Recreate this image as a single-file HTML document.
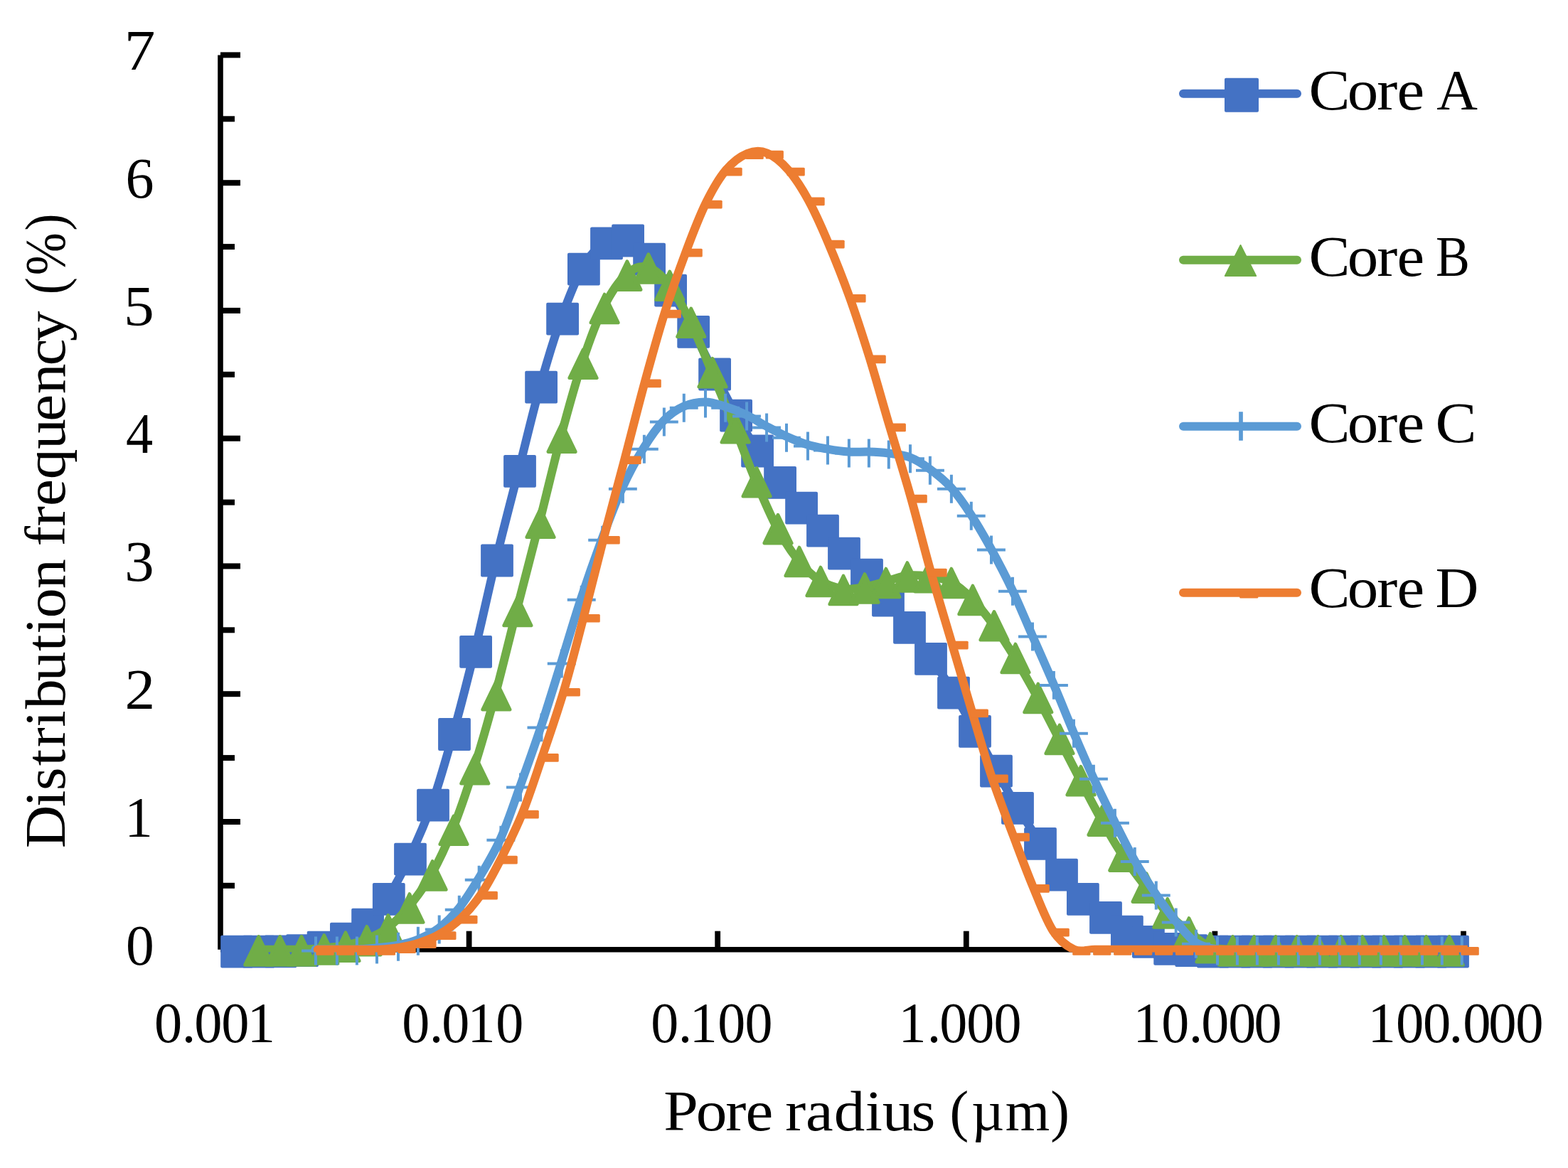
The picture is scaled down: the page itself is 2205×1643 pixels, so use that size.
<!DOCTYPE html>
<html lang="en"><head><meta charset="utf-8"><title>Pore radius distribution</title>
<style>html,body{margin:0;padding:0;background:#fff}body{width:2205px;height:1643px;overflow:hidden}svg{display:block}text{font-family:"Liberation Serif","DejaVu Serif",serif;fill:#000}</style>
</head><body>
<svg width="2205" height="1643" viewBox="0 0 2205 1643">
<rect width="2205" height="1643" fill="#fff"/>
<g stroke="#000" stroke-width="7.6" fill="none" stroke-linecap="butt">
<path d="M310.0 77.5V1335.8"/>
<path d="M310.0 1335.8H2061.8"/>
<path d="M310.0 1245.8h20.0" stroke-width="8"/>
<path d="M310.0 1156.0h28.0" stroke-width="8"/>
<path d="M310.0 1066.1h20.0" stroke-width="8"/>
<path d="M310.0 976.2h28.0" stroke-width="8"/>
<path d="M310.0 886.3h20.0" stroke-width="8"/>
<path d="M310.0 796.4h28.0" stroke-width="8"/>
<path d="M310.0 706.6h20.0" stroke-width="8"/>
<path d="M310.0 616.7h28.0" stroke-width="8"/>
<path d="M310.0 526.8h20.0" stroke-width="8"/>
<path d="M310.0 436.9h28.0" stroke-width="8"/>
<path d="M310.0 347.1h20.0" stroke-width="8"/>
<path d="M310.0 257.2h28.0" stroke-width="8"/>
<path d="M310.0 167.3h20.0" stroke-width="8"/>
<path d="M310.0 77.4h28.0" stroke-width="8"/>
<path d="M659.6 1335.8v-26.1" stroke-width="7.8"/>
<path d="M1009.2 1335.8v-26.1" stroke-width="7.8"/>
<path d="M1358.8 1335.8v-26.1" stroke-width="7.8"/>
<path d="M1708.4 1335.8v-26.1" stroke-width="7.8"/>
<path d="M2058.0 1335.8v-26.1" stroke-width="7.8"/>
</g>
<defs><clipPath id="plot"><rect x="300" y="0" width="1763.8" height="1339.6"/></clipPath></defs>
<g>
<path clip-path="url(#plot)" d="M331.9 1335.8C337.0 1335.8 352.4 1335.8 362.6 1335.8C372.8 1335.8 383.1 1335.7 393.3 1335.5C403.5 1335.3 413.9 1335.3 423.9 1334.4C433.9 1333.5 443.1 1332.7 453.4 1329.9C463.7 1327.1 475.3 1323.2 485.7 1317.8C496.1 1312.4 505.9 1307.1 515.9 1297.8C525.9 1288.5 535.6 1277.3 545.6 1262.0C555.6 1246.7 565.4 1227.9 575.8 1205.9C586.2 1183.9 597.5 1159.1 607.8 1129.8C618.1 1100.5 627.8 1066.2 637.8 1030.2C647.8 994.2 657.9 954.8 667.9 914.0C677.9 873.2 687.5 828.0 697.8 785.7C708.1 743.4 719.4 700.6 729.8 660.0C740.1 619.4 749.9 577.6 759.9 541.9C769.9 506.2 779.9 473.5 789.9 445.8C799.9 418.1 809.4 393.6 819.7 375.9C830.0 358.2 841.4 346.2 851.8 339.5C862.2 332.8 871.9 332.0 881.9 335.7C891.9 339.4 901.9 350.1 911.9 361.8C921.9 373.5 931.5 388.8 941.9 405.8C952.2 422.8 963.7 444.4 974.0 464.0C984.3 483.6 993.9 504.1 1003.9 523.7C1013.9 543.3 1023.9 563.8 1033.9 581.8C1043.9 599.8 1053.6 616.0 1063.9 631.7C1074.2 647.4 1085.6 662.6 1095.9 676.0C1106.2 689.4 1115.9 700.6 1125.9 711.9C1135.9 723.2 1145.8 733.2 1155.8 743.9C1165.8 754.6 1175.5 765.6 1185.8 775.9C1196.1 786.2 1207.5 794.9 1217.8 805.9C1228.1 816.9 1237.8 829.4 1247.8 841.7C1257.8 854.1 1267.8 866.3 1277.8 880.0C1287.8 893.7 1297.5 908.7 1307.8 924.0C1318.1 939.3 1329.5 954.9 1339.8 971.9C1350.1 988.9 1359.8 1007.7 1369.8 1026.0C1379.8 1044.3 1389.8 1063.8 1399.8 1081.8C1409.8 1099.8 1419.5 1117.0 1429.8 1134.0C1440.1 1151.0 1451.5 1168.4 1461.8 1184.0C1472.1 1199.6 1481.8 1214.8 1491.8 1227.8C1501.8 1240.8 1511.4 1252.1 1521.7 1262.1C1532.0 1272.1 1543.5 1280.4 1553.8 1288.0C1564.1 1295.6 1573.7 1302.2 1583.7 1307.9C1593.7 1313.6 1603.7 1318.0 1613.7 1322.0C1623.8 1326.0 1634.0 1330.0 1644.0 1332.1C1654.0 1334.2 1663.9 1333.8 1674.0 1334.4C1684.1 1335.0 1694.5 1335.6 1704.7 1335.8C1714.9 1336.0 1725.1 1335.8 1735.3 1335.8C1745.5 1335.8 1755.8 1335.8 1766.0 1335.8C1776.2 1335.8 1786.4 1335.8 1796.6 1335.8C1806.8 1335.8 1817.1 1335.8 1827.3 1335.8C1837.5 1335.8 1847.7 1335.8 1857.9 1335.8C1868.1 1335.8 1878.4 1335.8 1888.6 1335.8C1898.8 1335.8 1909.0 1335.8 1919.2 1335.8C1929.4 1335.8 1939.6 1335.8 1949.8 1335.8C1960.0 1335.8 1970.3 1335.8 1980.5 1335.8C1990.7 1335.8 2000.9 1335.8 2011.1 1335.8C2021.3 1335.8 2036.7 1335.8 2041.8 1335.8" fill="none" stroke="#4472C4" stroke-width="12.0" stroke-linejoin="round" stroke-linecap="round"/>
<rect x="310.2" y="1315.7" width="45.8" height="45.8" rx="2" fill="#4472C4"/>
<rect x="340.9" y="1315.7" width="45.8" height="45.8" rx="2" fill="#4472C4"/>
<rect x="371.6" y="1315.4" width="45.8" height="45.8" rx="2" fill="#4472C4"/>
<rect x="402.2" y="1314.3" width="45.8" height="45.8" rx="2" fill="#4472C4"/>
<rect x="431.7" y="1309.8" width="45.8" height="45.8" rx="2" fill="#4472C4"/>
<rect x="464.0" y="1297.7" width="45.8" height="45.8" rx="2" fill="#4472C4"/>
<rect x="494.2" y="1277.7" width="45.8" height="45.8" rx="2" fill="#4472C4"/>
<rect x="523.9" y="1241.9" width="45.8" height="45.8" rx="2" fill="#4472C4"/>
<rect x="554.1" y="1185.8" width="45.8" height="45.8" rx="2" fill="#4472C4"/>
<rect x="586.1" y="1109.7" width="45.8" height="45.8" rx="2" fill="#4472C4"/>
<rect x="616.1" y="1010.1" width="45.8" height="45.8" rx="2" fill="#4472C4"/>
<rect x="646.2" y="893.9" width="45.8" height="45.8" rx="2" fill="#4472C4"/>
<rect x="676.1" y="765.6" width="45.8" height="45.8" rx="2" fill="#4472C4"/>
<rect x="708.1" y="639.9" width="45.8" height="45.8" rx="2" fill="#4472C4"/>
<rect x="738.2" y="521.8" width="45.8" height="45.8" rx="2" fill="#4472C4"/>
<rect x="768.2" y="425.7" width="45.8" height="45.8" rx="2" fill="#4472C4"/>
<rect x="798.0" y="355.8" width="45.8" height="45.8" rx="2" fill="#4472C4"/>
<rect x="830.1" y="319.4" width="45.8" height="45.8" rx="2" fill="#4472C4"/>
<rect x="860.2" y="315.6" width="45.8" height="45.8" rx="2" fill="#4472C4"/>
<rect x="890.2" y="341.7" width="45.8" height="45.8" rx="2" fill="#4472C4"/>
<rect x="920.2" y="385.7" width="45.8" height="45.8" rx="2" fill="#4472C4"/>
<rect x="952.3" y="443.9" width="45.8" height="45.8" rx="2" fill="#4472C4"/>
<rect x="982.2" y="503.6" width="45.8" height="45.8" rx="2" fill="#4472C4"/>
<rect x="1012.2" y="561.7" width="45.8" height="45.8" rx="2" fill="#4472C4"/>
<rect x="1042.2" y="611.6" width="45.8" height="45.8" rx="2" fill="#4472C4"/>
<rect x="1074.2" y="655.9" width="45.8" height="45.8" rx="2" fill="#4472C4"/>
<rect x="1104.2" y="691.8" width="45.8" height="45.8" rx="2" fill="#4472C4"/>
<rect x="1134.1" y="723.8" width="45.8" height="45.8" rx="2" fill="#4472C4"/>
<rect x="1164.1" y="755.8" width="45.8" height="45.8" rx="2" fill="#4472C4"/>
<rect x="1196.1" y="785.8" width="45.8" height="45.8" rx="2" fill="#4472C4"/>
<rect x="1226.1" y="821.6" width="45.8" height="45.8" rx="2" fill="#4472C4"/>
<rect x="1256.1" y="859.9" width="45.8" height="45.8" rx="2" fill="#4472C4"/>
<rect x="1286.1" y="903.9" width="45.8" height="45.8" rx="2" fill="#4472C4"/>
<rect x="1318.1" y="951.8" width="45.8" height="45.8" rx="2" fill="#4472C4"/>
<rect x="1348.1" y="1005.9" width="45.8" height="45.8" rx="2" fill="#4472C4"/>
<rect x="1378.1" y="1061.7" width="45.8" height="45.8" rx="2" fill="#4472C4"/>
<rect x="1408.1" y="1113.9" width="45.8" height="45.8" rx="2" fill="#4472C4"/>
<rect x="1440.1" y="1163.9" width="45.8" height="45.8" rx="2" fill="#4472C4"/>
<rect x="1470.1" y="1207.7" width="45.8" height="45.8" rx="2" fill="#4472C4"/>
<rect x="1500.0" y="1242.0" width="45.8" height="45.8" rx="2" fill="#4472C4"/>
<rect x="1532.1" y="1267.9" width="45.8" height="45.8" rx="2" fill="#4472C4"/>
<rect x="1562.0" y="1287.8" width="45.8" height="45.8" rx="2" fill="#4472C4"/>
<rect x="1592.0" y="1301.9" width="45.8" height="45.8" rx="2" fill="#4472C4"/>
<rect x="1622.3" y="1312.0" width="45.8" height="45.8" rx="2" fill="#4472C4"/>
<rect x="1652.3" y="1314.3" width="45.8" height="45.8" rx="2" fill="#4472C4"/>
<rect x="1683.0" y="1315.7" width="45.8" height="45.8" rx="2" fill="#4472C4"/>
<rect x="1713.6" y="1315.7" width="45.8" height="45.8" rx="2" fill="#4472C4"/>
<rect x="1744.3" y="1315.7" width="45.8" height="45.8" rx="2" fill="#4472C4"/>
<rect x="1774.9" y="1315.7" width="45.8" height="45.8" rx="2" fill="#4472C4"/>
<rect x="1805.6" y="1315.7" width="45.8" height="45.8" rx="2" fill="#4472C4"/>
<rect x="1836.2" y="1315.7" width="45.8" height="45.8" rx="2" fill="#4472C4"/>
<rect x="1866.9" y="1315.7" width="45.8" height="45.8" rx="2" fill="#4472C4"/>
<rect x="1897.5" y="1315.7" width="45.8" height="45.8" rx="2" fill="#4472C4"/>
<rect x="1928.1" y="1315.7" width="45.8" height="45.8" rx="2" fill="#4472C4"/>
<rect x="1958.8" y="1315.7" width="45.8" height="45.8" rx="2" fill="#4472C4"/>
<rect x="1989.4" y="1315.7" width="45.8" height="45.8" rx="2" fill="#4472C4"/>
<rect x="2020.1" y="1315.7" width="45.8" height="45.8" rx="2" fill="#4472C4"/>
</g>
<g>
<path clip-path="url(#plot)" d="M362.5 1335.7C367.5 1335.7 382.5 1335.7 392.5 1335.7C402.5 1335.7 412.4 1336.0 422.7 1335.7C433.0 1335.4 444.2 1334.8 454.5 1333.8C464.8 1332.8 474.7 1332.0 484.7 1330.0C494.7 1328.0 504.6 1325.6 514.6 1321.6C524.6 1317.5 534.6 1313.3 544.6 1305.7C554.6 1298.1 564.2 1288.5 574.6 1275.8C585.0 1263.2 596.5 1248.0 606.8 1229.8C617.2 1211.5 626.8 1191.0 636.7 1166.1C646.7 1141.3 656.5 1112.1 666.5 1080.5C676.5 1049.0 686.6 1013.7 696.6 976.6C706.6 939.6 716.2 898.8 726.6 858.4C737.0 817.9 748.3 774.9 758.7 734.1C769.1 693.4 778.8 651.3 788.8 614.0C798.8 576.6 808.7 540.4 818.7 510.2C828.7 479.9 838.5 453.1 848.8 432.4C859.1 411.7 870.3 395.4 880.6 386.0C890.9 376.5 900.6 373.5 910.6 375.9C920.6 378.3 930.5 387.4 940.5 400.2C950.5 412.9 960.5 431.8 970.5 452.2C980.5 472.6 990.3 497.8 1000.7 522.6C1011.1 547.3 1022.4 574.9 1032.8 600.6C1043.1 626.2 1052.8 653.0 1062.8 676.6C1072.8 700.3 1082.7 723.8 1092.7 742.5C1102.7 761.1 1112.7 776.0 1122.7 788.4C1132.7 800.7 1142.4 809.7 1152.7 816.4C1163.0 823.0 1174.4 826.7 1184.7 828.2C1195.0 829.8 1204.7 827.5 1214.7 825.8C1224.7 824.2 1234.6 821.0 1244.6 818.4C1254.6 815.7 1264.6 811.1 1274.6 809.8C1284.6 808.5 1294.4 809.2 1304.7 810.6C1315.0 812.1 1326.3 813.1 1336.6 818.4C1346.9 823.6 1356.6 832.2 1366.6 842.2C1376.6 852.3 1386.7 865.0 1396.7 878.6C1406.7 892.3 1416.4 907.4 1426.7 924.4C1437.0 941.3 1448.2 961.3 1458.5 980.2C1468.8 999.2 1478.7 1018.9 1488.7 1038.2C1498.7 1057.6 1508.7 1077.4 1518.7 1096.5C1528.7 1115.7 1538.7 1135.2 1548.7 1152.9C1558.7 1170.7 1568.2 1187.3 1578.5 1202.9C1588.8 1218.6 1600.5 1233.6 1610.8 1246.9C1621.1 1260.2 1630.5 1272.3 1640.5 1282.8C1650.5 1293.2 1660.7 1301.7 1670.7 1309.8C1680.7 1317.9 1690.4 1327.3 1700.7 1331.6C1711.0 1335.9 1722.0 1335.1 1732.3 1335.8C1742.6 1336.4 1752.3 1335.8 1762.4 1335.8C1772.5 1335.8 1782.7 1335.8 1792.7 1335.8C1802.7 1335.8 1812.6 1335.8 1822.5 1335.8C1832.4 1335.8 1842.0 1335.8 1852.3 1335.8C1862.6 1335.8 1874.1 1335.8 1884.5 1335.8C1894.9 1335.8 1904.6 1335.8 1914.7 1335.8C1924.8 1335.8 1935.1 1335.8 1945.0 1335.8C1954.9 1335.8 1964.3 1335.8 1974.2 1335.8C1984.1 1335.8 1994.0 1335.8 2004.4 1335.8C2014.8 1335.8 2031.4 1335.8 2036.8 1335.8" fill="none" stroke="#70AD47" stroke-width="12.0" stroke-linejoin="round" stroke-linecap="round"/>
<path d="M363.80 1317.35L383.15 1357.35H344.45z" fill="#70AD47" stroke="#70AD47" stroke-width="4.6" stroke-linejoin="round"/>
<path d="M393.80 1317.35L413.15 1357.35H374.45z" fill="#70AD47" stroke="#70AD47" stroke-width="4.6" stroke-linejoin="round"/>
<path d="M424.00 1317.35L443.35 1357.35H404.65z" fill="#70AD47" stroke="#70AD47" stroke-width="4.6" stroke-linejoin="round"/>
<path d="M455.80 1315.45L475.15 1355.45H436.45z" fill="#70AD47" stroke="#70AD47" stroke-width="4.6" stroke-linejoin="round"/>
<path d="M486.00 1311.65L505.35 1351.65H466.65z" fill="#70AD47" stroke="#70AD47" stroke-width="4.6" stroke-linejoin="round"/>
<path d="M515.90 1303.25L535.25 1343.25H496.55z" fill="#70AD47" stroke="#70AD47" stroke-width="4.6" stroke-linejoin="round"/>
<path d="M545.90 1287.35L565.25 1327.35H526.55z" fill="#70AD47" stroke="#70AD47" stroke-width="4.6" stroke-linejoin="round"/>
<path d="M575.90 1257.50L595.25 1297.50H556.55z" fill="#70AD47" stroke="#70AD47" stroke-width="4.6" stroke-linejoin="round"/>
<path d="M608.10 1211.40L627.45 1251.40H588.75z" fill="#70AD47" stroke="#70AD47" stroke-width="4.6" stroke-linejoin="round"/>
<path d="M638.00 1147.80L657.35 1187.80H618.65z" fill="#70AD47" stroke="#70AD47" stroke-width="4.6" stroke-linejoin="round"/>
<path d="M667.80 1062.20L687.15 1102.20H648.45z" fill="#70AD47" stroke="#70AD47" stroke-width="4.6" stroke-linejoin="round"/>
<path d="M697.90 958.30L717.25 998.30H678.55z" fill="#70AD47" stroke="#70AD47" stroke-width="4.6" stroke-linejoin="round"/>
<path d="M727.90 840.00L747.25 880.00H708.55z" fill="#70AD47" stroke="#70AD47" stroke-width="4.6" stroke-linejoin="round"/>
<path d="M760.00 715.80L779.35 755.80H740.65z" fill="#70AD47" stroke="#70AD47" stroke-width="4.6" stroke-linejoin="round"/>
<path d="M790.10 595.60L809.45 635.60H770.75z" fill="#70AD47" stroke="#70AD47" stroke-width="4.6" stroke-linejoin="round"/>
<path d="M820.00 491.80L839.35 531.80H800.65z" fill="#70AD47" stroke="#70AD47" stroke-width="4.6" stroke-linejoin="round"/>
<path d="M850.10 414.00L869.45 454.00H830.75z" fill="#70AD47" stroke="#70AD47" stroke-width="4.6" stroke-linejoin="round"/>
<path d="M881.90 367.60L901.25 407.60H862.55z" fill="#70AD47" stroke="#70AD47" stroke-width="4.6" stroke-linejoin="round"/>
<path d="M911.90 357.55L931.25 397.55H892.55z" fill="#70AD47" stroke="#70AD47" stroke-width="4.6" stroke-linejoin="round"/>
<path d="M941.80 381.80L961.15 421.80H922.45z" fill="#70AD47" stroke="#70AD47" stroke-width="4.6" stroke-linejoin="round"/>
<path d="M971.80 433.80L991.15 473.80H952.45z" fill="#70AD47" stroke="#70AD47" stroke-width="4.6" stroke-linejoin="round"/>
<path d="M1002.00 504.20L1021.35 544.20H982.65z" fill="#70AD47" stroke="#70AD47" stroke-width="4.6" stroke-linejoin="round"/>
<path d="M1034.10 582.20L1053.45 622.20H1014.75z" fill="#70AD47" stroke="#70AD47" stroke-width="4.6" stroke-linejoin="round"/>
<path d="M1064.10 658.30L1083.45 698.30H1044.75z" fill="#70AD47" stroke="#70AD47" stroke-width="4.6" stroke-linejoin="round"/>
<path d="M1094.00 724.10L1113.35 764.10H1074.65z" fill="#70AD47" stroke="#70AD47" stroke-width="4.6" stroke-linejoin="round"/>
<path d="M1124.00 770.00L1143.35 810.00H1104.65z" fill="#70AD47" stroke="#70AD47" stroke-width="4.6" stroke-linejoin="round"/>
<path d="M1154.00 798.00L1173.35 838.00H1134.65z" fill="#70AD47" stroke="#70AD47" stroke-width="4.6" stroke-linejoin="round"/>
<path d="M1186.00 809.90L1205.35 849.90H1166.65z" fill="#70AD47" stroke="#70AD47" stroke-width="4.6" stroke-linejoin="round"/>
<path d="M1216.00 807.45L1235.35 847.45H1196.65z" fill="#70AD47" stroke="#70AD47" stroke-width="4.6" stroke-linejoin="round"/>
<path d="M1245.90 800.00L1265.25 840.00H1226.55z" fill="#70AD47" stroke="#70AD47" stroke-width="4.6" stroke-linejoin="round"/>
<path d="M1275.90 791.45L1295.25 831.45H1256.55z" fill="#70AD47" stroke="#70AD47" stroke-width="4.6" stroke-linejoin="round"/>
<path d="M1306.00 792.30L1325.35 832.30H1286.65z" fill="#70AD47" stroke="#70AD47" stroke-width="4.6" stroke-linejoin="round"/>
<path d="M1337.90 800.00L1357.25 840.00H1318.55z" fill="#70AD47" stroke="#70AD47" stroke-width="4.6" stroke-linejoin="round"/>
<path d="M1367.90 823.90L1387.25 863.90H1348.55z" fill="#70AD47" stroke="#70AD47" stroke-width="4.6" stroke-linejoin="round"/>
<path d="M1398.00 860.30L1417.35 900.30H1378.65z" fill="#70AD47" stroke="#70AD47" stroke-width="4.6" stroke-linejoin="round"/>
<path d="M1428.00 906.00L1447.35 946.00H1408.65z" fill="#70AD47" stroke="#70AD47" stroke-width="4.6" stroke-linejoin="round"/>
<path d="M1459.80 961.90L1479.15 1001.90H1440.45z" fill="#70AD47" stroke="#70AD47" stroke-width="4.6" stroke-linejoin="round"/>
<path d="M1490.00 1019.90L1509.35 1059.90H1470.65z" fill="#70AD47" stroke="#70AD47" stroke-width="4.6" stroke-linejoin="round"/>
<path d="M1520.00 1078.20L1539.35 1118.20H1500.65z" fill="#70AD47" stroke="#70AD47" stroke-width="4.6" stroke-linejoin="round"/>
<path d="M1550.00 1134.60L1569.35 1174.60H1530.65z" fill="#70AD47" stroke="#70AD47" stroke-width="4.6" stroke-linejoin="round"/>
<path d="M1579.80 1184.60L1599.15 1224.60H1560.45z" fill="#70AD47" stroke="#70AD47" stroke-width="4.6" stroke-linejoin="round"/>
<path d="M1612.10 1228.60L1631.45 1268.60H1592.75z" fill="#70AD47" stroke="#70AD47" stroke-width="4.6" stroke-linejoin="round"/>
<path d="M1641.80 1264.40L1661.15 1304.40H1622.45z" fill="#70AD47" stroke="#70AD47" stroke-width="4.6" stroke-linejoin="round"/>
<path d="M1672.00 1291.45L1691.35 1331.45H1652.65z" fill="#70AD47" stroke="#70AD47" stroke-width="4.6" stroke-linejoin="round"/>
<path d="M1702.00 1313.25L1721.35 1353.25H1682.65z" fill="#70AD47" stroke="#70AD47" stroke-width="4.6" stroke-linejoin="round"/>
<path d="M1733.60 1317.40L1752.95 1357.40H1714.25z" fill="#70AD47" stroke="#70AD47" stroke-width="4.6" stroke-linejoin="round"/>
<path d="M1763.70 1317.40L1783.05 1357.40H1744.35z" fill="#70AD47" stroke="#70AD47" stroke-width="4.6" stroke-linejoin="round"/>
<path d="M1794.00 1317.40L1813.35 1357.40H1774.65z" fill="#70AD47" stroke="#70AD47" stroke-width="4.6" stroke-linejoin="round"/>
<path d="M1823.80 1317.40L1843.15 1357.40H1804.45z" fill="#70AD47" stroke="#70AD47" stroke-width="4.6" stroke-linejoin="round"/>
<path d="M1853.60 1317.40L1872.95 1357.40H1834.25z" fill="#70AD47" stroke="#70AD47" stroke-width="4.6" stroke-linejoin="round"/>
<path d="M1885.80 1317.40L1905.15 1357.40H1866.45z" fill="#70AD47" stroke="#70AD47" stroke-width="4.6" stroke-linejoin="round"/>
<path d="M1916.00 1317.40L1935.35 1357.40H1896.65z" fill="#70AD47" stroke="#70AD47" stroke-width="4.6" stroke-linejoin="round"/>
<path d="M1946.30 1317.40L1965.65 1357.40H1926.95z" fill="#70AD47" stroke="#70AD47" stroke-width="4.6" stroke-linejoin="round"/>
<path d="M1975.50 1317.40L1994.85 1357.40H1956.15z" fill="#70AD47" stroke="#70AD47" stroke-width="4.6" stroke-linejoin="round"/>
<path d="M2005.70 1317.40L2025.05 1357.40H1986.35z" fill="#70AD47" stroke="#70AD47" stroke-width="4.6" stroke-linejoin="round"/>
<path d="M2038.10 1317.40L2057.45 1357.40H2018.75z" fill="#70AD47" stroke="#70AD47" stroke-width="4.6" stroke-linejoin="round"/>
</g>
<g>
<path clip-path="url(#plot)" d="M443.5 1335.6C448.5 1335.6 463.8 1335.6 473.4 1335.6C483.0 1335.6 492.0 1336.0 501.4 1335.6C510.8 1335.2 519.8 1334.4 529.5 1333.4C539.2 1332.4 549.9 1331.6 559.5 1329.7C569.1 1327.8 577.8 1325.8 587.4 1321.8C597.0 1317.8 607.6 1312.9 617.2 1305.6C626.9 1298.2 636.0 1289.3 645.3 1277.7C654.6 1266.1 663.4 1252.0 673.2 1235.7C683.0 1219.4 694.2 1201.4 703.9 1179.7C713.6 1158.0 722.0 1132.0 731.5 1105.6C741.0 1079.2 751.4 1050.4 761.0 1021.4C770.6 992.4 779.9 961.5 789.3 931.6C798.7 901.7 807.6 870.7 817.2 841.7C826.8 812.7 837.0 783.7 846.7 757.7C856.4 731.7 865.6 707.0 875.4 685.7C885.2 664.4 895.7 645.4 905.4 629.7C915.1 614.0 924.1 601.2 933.4 591.6C942.7 582.0 951.6 576.1 961.3 571.8C971.0 567.4 981.8 565.5 991.5 565.5C1001.2 565.5 1010.0 568.8 1019.7 571.8C1029.4 574.8 1039.9 579.0 1049.6 583.6C1059.2 588.2 1068.3 594.5 1077.6 599.5C1086.9 604.5 1095.8 609.4 1105.5 613.8C1115.2 618.1 1125.8 622.6 1135.5 625.6C1145.2 628.6 1153.8 629.9 1163.5 631.6C1173.2 633.3 1183.8 634.9 1193.4 635.6C1203.1 636.3 1212.1 635.3 1221.4 635.6C1230.7 635.9 1239.6 636.3 1249.3 637.6C1259.0 638.9 1269.8 639.6 1279.5 643.3C1289.2 647.0 1297.8 652.6 1307.4 659.7C1317.1 666.8 1327.8 675.1 1337.4 685.8C1347.1 696.5 1356.0 709.4 1365.3 723.7C1374.6 738.0 1383.8 753.9 1393.5 771.6C1403.2 789.3 1413.8 809.5 1423.5 829.8C1433.2 850.1 1441.8 871.6 1451.5 893.6C1461.2 915.6 1471.7 939.2 1481.4 961.9C1491.1 984.6 1500.2 1007.8 1509.5 1029.8C1518.8 1051.8 1527.8 1072.8 1537.4 1093.8C1547.1 1114.8 1557.8 1136.4 1567.4 1155.8C1577.1 1175.2 1585.7 1193.0 1595.3 1209.9C1604.9 1226.9 1615.6 1243.2 1625.3 1257.5C1635.0 1271.8 1643.8 1284.1 1653.2 1295.5C1662.6 1306.9 1671.7 1319.0 1681.4 1325.7C1691.1 1332.4 1701.8 1333.9 1711.5 1335.6C1721.2 1337.2 1730.1 1335.6 1739.4 1335.6C1748.7 1335.6 1757.7 1335.6 1767.4 1335.6C1777.1 1335.6 1787.7 1335.6 1797.4 1335.6C1807.1 1335.6 1815.7 1335.6 1825.4 1335.6C1835.1 1335.6 1845.7 1335.6 1855.4 1335.6C1865.1 1335.6 1874.1 1335.6 1883.4 1335.6C1892.7 1335.6 1901.6 1335.6 1911.3 1335.6C1921.0 1335.6 1931.7 1335.6 1941.4 1335.6C1951.1 1335.6 1959.6 1335.6 1969.3 1335.6C1979.0 1335.6 1989.7 1335.6 1999.4 1335.6C2009.1 1335.6 2018.0 1335.6 2027.3 1335.6C2036.6 1335.6 2050.6 1335.6 2055.3 1335.6" fill="none" stroke="#5B9BD5" stroke-width="12.0" stroke-linejoin="round" stroke-linecap="round"/>
<path d="M424.1 1337.6h39.9 M444.0 1317.6v39.9" stroke="#5B9BD5" stroke-width="4.0" fill="none"/>
<path d="M453.9 1337.6h39.9 M473.9 1317.6v39.9" stroke="#5B9BD5" stroke-width="4.0" fill="none"/>
<path d="M481.9 1337.6h39.9 M501.9 1317.6v39.9" stroke="#5B9BD5" stroke-width="4.0" fill="none"/>
<path d="M510.1 1335.4h39.9 M530.0 1315.5v39.9" stroke="#5B9BD5" stroke-width="4.0" fill="none"/>
<path d="M540.0 1331.7h39.9 M560.0 1311.8v39.9" stroke="#5B9BD5" stroke-width="4.0" fill="none"/>
<path d="M567.9 1323.8h39.9 M587.9 1303.8v39.9" stroke="#5B9BD5" stroke-width="4.0" fill="none"/>
<path d="M597.8 1307.6h39.9 M617.7 1287.6v39.9" stroke="#5B9BD5" stroke-width="4.0" fill="none"/>
<path d="M625.8 1279.7h39.9 M645.8 1259.8v39.9" stroke="#5B9BD5" stroke-width="4.0" fill="none"/>
<path d="M653.8 1237.7h39.9 M673.7 1217.8v39.9" stroke="#5B9BD5" stroke-width="4.0" fill="none"/>
<path d="M684.4 1181.7h39.9 M704.4 1161.8v39.9" stroke="#5B9BD5" stroke-width="4.0" fill="none"/>
<path d="M712.0 1107.6h39.9 M732.0 1087.6v39.9" stroke="#5B9BD5" stroke-width="4.0" fill="none"/>
<path d="M741.5 1023.4h39.9 M761.5 1003.4v39.9" stroke="#5B9BD5" stroke-width="4.0" fill="none"/>
<path d="M769.8 933.6h39.9 M789.8 913.6v39.9" stroke="#5B9BD5" stroke-width="4.0" fill="none"/>
<path d="M797.8 843.7h39.9 M817.7 823.8v39.9" stroke="#5B9BD5" stroke-width="4.0" fill="none"/>
<path d="M827.2 759.7h39.9 M847.2 739.8v39.9" stroke="#5B9BD5" stroke-width="4.0" fill="none"/>
<path d="M855.9 687.7h39.9 M875.9 667.8v39.9" stroke="#5B9BD5" stroke-width="4.0" fill="none"/>
<path d="M885.9 631.7h39.9 M905.9 611.8v39.9" stroke="#5B9BD5" stroke-width="4.0" fill="none"/>
<path d="M913.9 593.6h39.9 M933.9 573.6v39.9" stroke="#5B9BD5" stroke-width="4.0" fill="none"/>
<path d="M941.8 573.8h39.9 M961.8 553.8v39.9" stroke="#5B9BD5" stroke-width="4.0" fill="none"/>
<path d="M972.0 567.5h39.9 M992.0 547.5v39.9" stroke="#5B9BD5" stroke-width="4.0" fill="none"/>
<path d="M1000.2 573.8h39.9 M1020.2 553.8v39.9" stroke="#5B9BD5" stroke-width="4.0" fill="none"/>
<path d="M1030.1 585.6h39.9 M1050.1 565.6v39.9" stroke="#5B9BD5" stroke-width="4.0" fill="none"/>
<path d="M1058.1 601.5h39.9 M1078.1 581.5v39.9" stroke="#5B9BD5" stroke-width="4.0" fill="none"/>
<path d="M1086.0 615.8h39.9 M1106.0 595.8v39.9" stroke="#5B9BD5" stroke-width="4.0" fill="none"/>
<path d="M1116.0 627.6h39.9 M1136.0 607.6v39.9" stroke="#5B9BD5" stroke-width="4.0" fill="none"/>
<path d="M1144.0 633.6h39.9 M1164.0 613.6v39.9" stroke="#5B9BD5" stroke-width="4.0" fill="none"/>
<path d="M1174.0 637.6h39.9 M1193.9 617.6v39.9" stroke="#5B9BD5" stroke-width="4.0" fill="none"/>
<path d="M1202.0 637.6h39.9 M1221.9 617.6v39.9" stroke="#5B9BD5" stroke-width="4.0" fill="none"/>
<path d="M1229.8 639.6h39.9 M1249.8 619.6v39.9" stroke="#5B9BD5" stroke-width="4.0" fill="none"/>
<path d="M1260.0 645.3h39.9 M1280.0 625.3v39.9" stroke="#5B9BD5" stroke-width="4.0" fill="none"/>
<path d="M1288.0 661.7h39.9 M1307.9 641.8v39.9" stroke="#5B9BD5" stroke-width="4.0" fill="none"/>
<path d="M1318.0 687.8h39.9 M1337.9 667.8v39.9" stroke="#5B9BD5" stroke-width="4.0" fill="none"/>
<path d="M1345.8 725.7h39.9 M1365.8 705.8v39.9" stroke="#5B9BD5" stroke-width="4.0" fill="none"/>
<path d="M1374.0 773.6h39.9 M1394.0 753.6v39.9" stroke="#5B9BD5" stroke-width="4.0" fill="none"/>
<path d="M1404.0 831.8h39.9 M1424.0 811.8v39.9" stroke="#5B9BD5" stroke-width="4.0" fill="none"/>
<path d="M1432.0 895.6h39.9 M1452.0 875.6v39.9" stroke="#5B9BD5" stroke-width="4.0" fill="none"/>
<path d="M1462.0 963.9h39.9 M1481.9 943.9v39.9" stroke="#5B9BD5" stroke-width="4.0" fill="none"/>
<path d="M1490.0 1031.8h39.9 M1510.0 1011.8v39.9" stroke="#5B9BD5" stroke-width="4.0" fill="none"/>
<path d="M1518.0 1095.8h39.9 M1537.9 1075.8v39.9" stroke="#5B9BD5" stroke-width="4.0" fill="none"/>
<path d="M1548.0 1157.8h39.9 M1567.9 1137.8v39.9" stroke="#5B9BD5" stroke-width="4.0" fill="none"/>
<path d="M1575.8 1211.9h39.9 M1595.8 1192.0v39.9" stroke="#5B9BD5" stroke-width="4.0" fill="none"/>
<path d="M1605.8 1259.5h39.9 M1625.8 1239.5v39.9" stroke="#5B9BD5" stroke-width="4.0" fill="none"/>
<path d="M1633.8 1297.5h39.9 M1653.7 1277.5v39.9" stroke="#5B9BD5" stroke-width="4.0" fill="none"/>
<path d="M1662.0 1327.7h39.9 M1681.9 1307.8v39.9" stroke="#5B9BD5" stroke-width="4.0" fill="none"/>
<path d="M1692.0 1337.6h39.9 M1712.0 1317.6v39.9" stroke="#5B9BD5" stroke-width="4.0" fill="none"/>
<path d="M1720.0 1337.6h39.9 M1739.9 1317.6v39.9" stroke="#5B9BD5" stroke-width="4.0" fill="none"/>
<path d="M1748.0 1337.6h39.9 M1767.9 1317.6v39.9" stroke="#5B9BD5" stroke-width="4.0" fill="none"/>
<path d="M1778.0 1337.6h39.9 M1797.9 1317.6v39.9" stroke="#5B9BD5" stroke-width="4.0" fill="none"/>
<path d="M1806.0 1337.6h39.9 M1825.9 1317.6v39.9" stroke="#5B9BD5" stroke-width="4.0" fill="none"/>
<path d="M1836.0 1337.6h39.9 M1855.9 1317.6v39.9" stroke="#5B9BD5" stroke-width="4.0" fill="none"/>
<path d="M1864.0 1337.6h39.9 M1883.9 1317.6v39.9" stroke="#5B9BD5" stroke-width="4.0" fill="none"/>
<path d="M1891.8 1337.6h39.9 M1911.8 1317.6v39.9" stroke="#5B9BD5" stroke-width="4.0" fill="none"/>
<path d="M1922.0 1337.6h39.9 M1941.9 1317.6v39.9" stroke="#5B9BD5" stroke-width="4.0" fill="none"/>
<path d="M1949.8 1337.6h39.9 M1969.8 1317.6v39.9" stroke="#5B9BD5" stroke-width="4.0" fill="none"/>
<path d="M1980.0 1337.6h39.9 M1999.9 1317.6v39.9" stroke="#5B9BD5" stroke-width="4.0" fill="none"/>
<path d="M2007.8 1337.6h39.9 M2027.8 1317.6v39.9" stroke="#5B9BD5" stroke-width="4.0" fill="none"/>
<path d="M2035.9 1337.6h39.9 M2055.8 1317.6v39.9" stroke="#5B9BD5" stroke-width="4.0" fill="none"/>
</g>
<g>
<path clip-path="url(#plot)" d="M446.7 1335.7C451.5 1335.7 465.9 1335.7 475.5 1335.7C485.1 1335.7 494.7 1335.7 504.3 1335.7C513.9 1335.7 523.4 1336.2 533.0 1335.7C542.6 1335.2 552.2 1334.5 561.8 1332.9C571.4 1331.3 581.1 1329.2 590.6 1326.0C600.1 1322.8 608.9 1319.8 618.5 1314.0C628.1 1308.2 638.8 1300.9 648.5 1291.5C658.2 1282.1 667.5 1271.4 676.9 1257.4C686.3 1243.4 695.1 1226.5 704.8 1207.5C714.4 1188.5 725.1 1167.5 734.8 1143.5C744.4 1119.5 753.0 1092.4 762.7 1063.8C772.4 1035.2 783.2 1004.4 792.9 971.7C802.6 939.0 811.5 903.4 820.8 867.7C830.1 832.0 839.2 794.7 848.8 757.6C858.4 720.5 868.9 681.9 878.6 645.2C888.3 608.5 897.4 571.6 906.8 537.3C916.2 503.0 925.2 470.1 934.9 439.5C944.6 408.9 955.2 379.3 964.8 353.6C974.4 327.9 983.4 304.5 992.7 285.5C1002.0 266.5 1011.0 251.0 1020.7 239.4C1030.4 227.8 1041.1 220.0 1050.8 216.0C1060.5 212.0 1069.2 211.6 1078.9 215.5C1088.6 219.4 1099.2 228.4 1108.8 239.4C1118.4 250.4 1127.4 264.4 1136.7 281.4C1146.0 298.4 1155.1 318.9 1164.7 341.6C1174.3 364.3 1184.9 390.8 1194.6 417.7C1204.3 444.6 1213.4 473.0 1222.8 503.3C1232.2 533.6 1241.2 566.7 1250.9 599.4C1260.6 632.1 1271.2 665.5 1280.8 699.5C1290.4 733.5 1299.0 769.2 1308.7 803.5C1318.4 837.8 1329.0 872.5 1338.7 905.5C1348.4 938.5 1357.6 970.0 1366.9 1001.3C1376.2 1032.6 1385.1 1064.3 1394.8 1093.3C1404.5 1122.3 1415.2 1149.8 1424.9 1175.5C1434.6 1201.2 1443.5 1225.4 1452.8 1247.7C1462.1 1270.0 1471.2 1294.7 1480.8 1309.4C1490.4 1324.1 1500.7 1331.3 1510.5 1335.7C1520.3 1340.1 1529.8 1335.7 1539.4 1335.7C1549.1 1335.7 1558.8 1335.7 1568.4 1335.7C1578.1 1335.7 1587.7 1335.7 1597.3 1335.7C1606.9 1335.7 1616.6 1335.7 1626.3 1335.7C1636.0 1335.7 1645.7 1335.7 1655.2 1335.7C1664.7 1335.7 1673.8 1335.7 1683.3 1335.7C1692.8 1335.7 1702.8 1335.7 1712.5 1335.7C1722.2 1335.7 1732.2 1335.7 1741.8 1335.7C1751.4 1335.7 1760.4 1335.7 1769.9 1335.7C1779.5 1335.7 1789.4 1335.7 1799.1 1335.7C1808.8 1335.7 1818.6 1335.7 1828.3 1335.7C1838.0 1335.7 1847.9 1335.7 1857.5 1335.7C1867.1 1335.7 1876.3 1335.7 1885.7 1335.7C1895.1 1335.7 1904.3 1335.7 1913.9 1335.7C1923.5 1335.7 1933.5 1335.7 1943.1 1335.7C1952.7 1335.7 1961.9 1335.7 1971.3 1335.7C1980.7 1335.7 1989.9 1335.7 1999.4 1335.7C2009.0 1335.7 2019.0 1335.7 2028.6 1335.7C2038.2 1335.7 2052.1 1335.7 2056.8 1335.7H2072" fill="none" stroke="#ED7D31" stroke-width="12.0" stroke-linejoin="round" stroke-linecap="round"/>
<rect x="444.4" y="1332.0" width="25.3" height="11.7" rx="1.5" fill="#ED7D31"/>
<rect x="473.2" y="1332.0" width="25.3" height="11.7" rx="1.5" fill="#ED7D31"/>
<rect x="502.0" y="1332.0" width="25.3" height="11.7" rx="1.5" fill="#ED7D31"/>
<rect x="530.7" y="1332.0" width="25.3" height="11.7" rx="1.5" fill="#ED7D31"/>
<rect x="559.5" y="1329.2" width="25.3" height="11.7" rx="1.5" fill="#ED7D31"/>
<rect x="588.3" y="1322.2" width="25.3" height="11.7" rx="1.5" fill="#ED7D31"/>
<rect x="616.2" y="1310.2" width="25.3" height="11.7" rx="1.5" fill="#ED7D31"/>
<rect x="646.2" y="1287.8" width="25.3" height="11.7" rx="1.5" fill="#ED7D31"/>
<rect x="674.6" y="1253.7" width="25.3" height="11.7" rx="1.5" fill="#ED7D31"/>
<rect x="702.5" y="1203.8" width="25.3" height="11.7" rx="1.5" fill="#ED7D31"/>
<rect x="732.5" y="1139.8" width="25.3" height="11.7" rx="1.5" fill="#ED7D31"/>
<rect x="760.4" y="1060.1" width="25.3" height="11.7" rx="1.5" fill="#ED7D31"/>
<rect x="790.6" y="967.9" width="25.3" height="11.7" rx="1.5" fill="#ED7D31"/>
<rect x="818.5" y="863.9" width="25.3" height="11.7" rx="1.5" fill="#ED7D31"/>
<rect x="846.5" y="753.9" width="25.3" height="11.7" rx="1.5" fill="#ED7D31"/>
<rect x="876.3" y="641.4" width="25.3" height="11.7" rx="1.5" fill="#ED7D31"/>
<rect x="904.5" y="533.5" width="25.3" height="11.7" rx="1.5" fill="#ED7D31"/>
<rect x="932.6" y="435.8" width="25.3" height="11.7" rx="1.5" fill="#ED7D31"/>
<rect x="962.5" y="349.8" width="25.3" height="11.7" rx="1.5" fill="#ED7D31"/>
<rect x="990.4" y="281.8" width="25.3" height="11.7" rx="1.5" fill="#ED7D31"/>
<rect x="1018.4" y="235.7" width="25.3" height="11.7" rx="1.5" fill="#ED7D31"/>
<rect x="1048.5" y="212.2" width="25.3" height="11.7" rx="1.5" fill="#ED7D31"/>
<rect x="1076.6" y="211.8" width="25.3" height="11.7" rx="1.5" fill="#ED7D31"/>
<rect x="1106.5" y="235.7" width="25.3" height="11.7" rx="1.5" fill="#ED7D31"/>
<rect x="1134.4" y="277.6" width="25.3" height="11.7" rx="1.5" fill="#ED7D31"/>
<rect x="1162.4" y="337.8" width="25.3" height="11.7" rx="1.5" fill="#ED7D31"/>
<rect x="1192.3" y="413.9" width="25.3" height="11.7" rx="1.5" fill="#ED7D31"/>
<rect x="1220.5" y="499.5" width="25.3" height="11.7" rx="1.5" fill="#ED7D31"/>
<rect x="1248.6" y="595.6" width="25.3" height="11.7" rx="1.5" fill="#ED7D31"/>
<rect x="1278.5" y="695.8" width="25.3" height="11.7" rx="1.5" fill="#ED7D31"/>
<rect x="1306.4" y="799.8" width="25.3" height="11.7" rx="1.5" fill="#ED7D31"/>
<rect x="1336.4" y="901.8" width="25.3" height="11.7" rx="1.5" fill="#ED7D31"/>
<rect x="1364.6" y="997.5" width="25.3" height="11.7" rx="1.5" fill="#ED7D31"/>
<rect x="1392.5" y="1089.6" width="25.3" height="11.7" rx="1.5" fill="#ED7D31"/>
<rect x="1422.6" y="1171.8" width="25.3" height="11.7" rx="1.5" fill="#ED7D31"/>
<rect x="1450.5" y="1244.0" width="25.3" height="11.7" rx="1.5" fill="#ED7D31"/>
<rect x="1478.5" y="1305.7" width="25.3" height="11.7" rx="1.5" fill="#ED7D31"/>
<rect x="1508.2" y="1332.0" width="25.3" height="11.7" rx="1.5" fill="#ED7D31"/>
<rect x="1537.1" y="1332.0" width="25.3" height="11.7" rx="1.5" fill="#ED7D31"/>
<rect x="1566.1" y="1332.0" width="25.3" height="11.7" rx="1.5" fill="#ED7D31"/>
<rect x="1595.0" y="1332.0" width="25.3" height="11.7" rx="1.5" fill="#ED7D31"/>
<rect x="1624.0" y="1332.0" width="25.3" height="11.7" rx="1.5" fill="#ED7D31"/>
<rect x="1652.9" y="1332.0" width="25.3" height="11.7" rx="1.5" fill="#ED7D31"/>
<rect x="1681.0" y="1332.0" width="25.3" height="11.7" rx="1.5" fill="#ED7D31"/>
<rect x="1710.2" y="1332.0" width="25.3" height="11.7" rx="1.5" fill="#ED7D31"/>
<rect x="1739.5" y="1332.0" width="25.3" height="11.7" rx="1.5" fill="#ED7D31"/>
<rect x="1767.6" y="1332.0" width="25.3" height="11.7" rx="1.5" fill="#ED7D31"/>
<rect x="1796.8" y="1332.0" width="25.3" height="11.7" rx="1.5" fill="#ED7D31"/>
<rect x="1826.0" y="1332.0" width="25.3" height="11.7" rx="1.5" fill="#ED7D31"/>
<rect x="1855.2" y="1332.0" width="25.3" height="11.7" rx="1.5" fill="#ED7D31"/>
<rect x="1883.4" y="1332.0" width="25.3" height="11.7" rx="1.5" fill="#ED7D31"/>
<rect x="1911.6" y="1332.0" width="25.3" height="11.7" rx="1.5" fill="#ED7D31"/>
<rect x="1940.8" y="1332.0" width="25.3" height="11.7" rx="1.5" fill="#ED7D31"/>
<rect x="1969.0" y="1332.0" width="25.3" height="11.7" rx="1.5" fill="#ED7D31"/>
<rect x="1997.1" y="1332.0" width="25.3" height="11.7" rx="1.5" fill="#ED7D31"/>
<rect x="2026.3" y="1332.0" width="25.3" height="11.7" rx="1.5" fill="#ED7D31"/>
<rect x="2054.5" y="1332.0" width="25.3" height="11.7" rx="1.5" fill="#ED7D31"/>
</g>
<path d="M1664.0 131.8H1824.0" stroke="#4472C4" stroke-width="12.0" stroke-linecap="round" fill="none"/>
<rect x="1722.0" y="109.7" width="48.0" height="48.0" rx="2" fill="#4472C4"/>
<text y="154.1" font-size="80"><tspan x="1840.63 1894.78 1936.27 1964.49" textLength="169.23" lengthAdjust="spacingAndGlyphs">Core</tspan> <tspan x="2020.22" textLength="57.66" lengthAdjust="spacingAndGlyphs">A</tspan></text>
<path d="M1664.0 365.8H1824.0" stroke="#70AD47" stroke-width="12.0" stroke-linecap="round" fill="none"/>
<path d="M1744.5 345.0l21.7 43.1h-43.4z" fill="#70AD47" stroke="#70AD47" stroke-width="2" stroke-linejoin="round"/>
<text y="388.1" font-size="80"><tspan x="1840.63 1894.78 1936.27 1964.49" textLength="169.23" lengthAdjust="spacingAndGlyphs">Core</tspan> <tspan x="2018.93" textLength="47.87" lengthAdjust="spacingAndGlyphs">B</tspan></text>
<path d="M1664.0 599.8H1824.0" stroke="#5B9BD5" stroke-width="12.0" stroke-linecap="round" fill="none"/>
<path d="M1724.8 599.5h40.4 M1745.0 579.3v40.4" stroke="#5B9BD5" stroke-width="5.7" fill="none"/>
<text y="622.1" font-size="80"><tspan x="1840.63 1894.78 1936.27 1964.49" textLength="169.23" lengthAdjust="spacingAndGlyphs">Core</tspan> <tspan x="2018.64" textLength="57.96" lengthAdjust="spacingAndGlyphs">C</tspan></text>
<path d="M1664.0 833.7H1824.0" stroke="#ED7D31" stroke-width="12.0" stroke-linecap="round" fill="none"/>
<rect x="1743.1" y="829.9" width="26.3" height="11.7" rx="1.5" fill="#ED7D31"/>
<text y="854.0" font-size="80"><tspan x="1840.63 1894.78 1936.27 1964.49" textLength="169.23" lengthAdjust="spacingAndGlyphs">Core</tspan> <tspan x="2018.57" textLength="60.91" lengthAdjust="spacingAndGlyphs">D</tspan></text>
<text x="176.97" textLength="39.76" lengthAdjust="spacingAndGlyphs" y="1356.5" font-size="79.7">0</text>
<text x="175.23" textLength="39.62" lengthAdjust="spacingAndGlyphs" y="1176.7" font-size="79.7">1</text>
<text x="175.45" textLength="42.66" lengthAdjust="spacingAndGlyphs" y="996.9" font-size="79.7">2</text>
<text x="175.24" textLength="41.40" lengthAdjust="spacingAndGlyphs" y="817.1" font-size="79.7">3</text>
<text x="176.91" textLength="38.18" lengthAdjust="spacingAndGlyphs" y="637.3" font-size="79.7">4</text>
<text x="173.92" textLength="42.82" lengthAdjust="spacingAndGlyphs" y="457.5" font-size="79.7">5</text>
<text x="176.56" textLength="40.02" lengthAdjust="spacingAndGlyphs" y="277.7" font-size="79.7">6</text>
<text x="174.74" textLength="43.67" lengthAdjust="spacingAndGlyphs" y="97.9" font-size="79.7">7</text>
<text x="217.06 255.74 273.14 311.14 347.64" textLength="176.53" lengthAdjust="spacingAndGlyphs" y="1466.4" font-size="79.7">0.001</text>
<text x="565.16 603.78 621.26 657.58 697.36" textLength="175.82" lengthAdjust="spacingAndGlyphs" y="1466.4" font-size="79.7">0.010</text>
<text x="915.19 953.80 969.71 1009.29 1047.39" textLength="175.56" lengthAdjust="spacingAndGlyphs" y="1466.4" font-size="79.7">0.100</text>
<text x="1263.61 1303.80 1321.29 1359.29 1397.39" textLength="175.56" lengthAdjust="spacingAndGlyphs" y="1466.4" font-size="79.7">1.000</text>
<text x="1593.45 1633.29 1671.84 1689.34 1727.29 1763.39" textLength="214.61" lengthAdjust="spacingAndGlyphs" y="1466.4" font-size="79.7">10.000</text>
<text x="1923.53 1963.02 2001.02 2037.51 2057.17 2093.37 2131.27" textLength="255.80" lengthAdjust="spacingAndGlyphs" y="1466.4" font-size="79.7">100.000</text>
<text y="1590.1" font-size="80"><tspan x="933.20 978.76 1020.31 1048.42" textLength="160.13" lengthAdjust="spacingAndGlyphs">Pore</tspan> <tspan x="1104.26 1133.09 1172.84 1216.77 1240.70 1281.54" textLength="212.81" lengthAdjust="spacingAndGlyphs">radius</tspan> <tspan x="1335.52 1366.06 1413.83 1477.31" textLength="162.07" lengthAdjust="spacingAndGlyphs">(µm)</tspan></text>
<text y="0.0" font-size="80" transform="translate(90.6 0) rotate(-90)"><tspan x="-1193.21 -1134.98 -1112.02 -1077.36 -1051.29 -1022.78 -997.27 -958.35 -916.01 -891.73 -869.32 -828.34" textLength="405.37" lengthAdjust="spacingAndGlyphs">Distribution</tspan> <tspan x="-768.51 -740.57 -711.98 -674.33 -632.09 -592.78 -554.39 -514.56 -480.16" textLength="343.08" lengthAdjust="spacingAndGlyphs">frequency</tspan> <tspan x="-414.17 -387.21 -324.57" textLength="108.00" lengthAdjust="spacingAndGlyphs">(%)</tspan></text>
</svg></body></html>
